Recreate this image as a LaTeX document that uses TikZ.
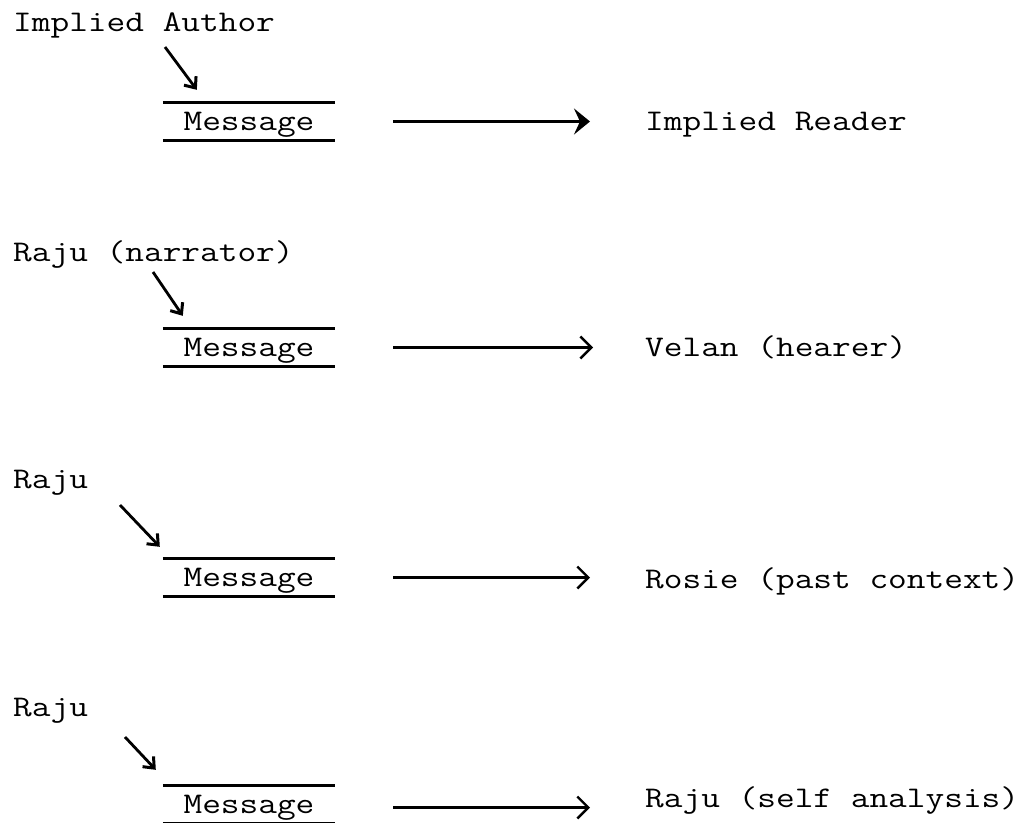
\documentclass[tikz,border=0pt]{standalone}
\usepackage{fontspec}
\usetikzlibrary{arrows.meta,calc}
\newcommand\tw[1]{\scalebox{1.21}[1]{\fontsize{30}{36}\selectfont\ttfamily #1}}
\begin{document}
\begin{tikzpicture}[x=1pt,y=-1pt,
  lbl/.style={anchor=base west,inner sep=0pt},
  msg/.style={minimum width=172pt,minimum height=37pt,inner sep=0pt,text height=18pt,text depth=0pt},
  rule/.style={line width=3pt},
  diag/.style={line width=2.8pt,-{Straight Barb[length=9pt,width=15pt,line width=3pt]}},
  harr/.style={line width=2.6pt,-{Straight Barb[length=11pt,width=22pt,line width=2.4pt]}},
  harrb/.style={line width=3pt,-{Stealth[length=16pt,width=26pt,inset=6pt]}}]
\fill[white] (0,0) rectangle (1028,822);
\useasboundingbox (0,0) rectangle (1028,822);

% row 1
\node[lbl] (s1) at (13,31) {\tw{Implied Author}};
\node[msg] (m1) at (249,121.5) {\tw{Message}};
\node[lbl] (r1) at (645,130) {\tw{Implied Reader}};
\draw[rule] (m1.north west) -- (m1.north east);
\draw[rule] (m1.south west) -- (m1.south east);
\draw[diag] ($(s1.base west)+(152,16)$) -- ($(m1.north west)+(34,-13)$);
\draw[harrb] ([xshift=58pt]m1.east) -- ($(m1.east -| r1.west)+(-55,0)$);

% row 2
\node[lbl] (s2) at (13,261) {\tw{Raju (narrator)}};
\node[msg] (m2) at (249,347.5) {\tw{Message}};
\node[lbl] (r2) at (645,356) {\tw{Velan (hearer)}};
\draw[rule] (m2.north west) -- (m2.north east);
\draw[rule] (m2.south west) -- (m2.south east);
\draw[diag] ($(s2.base west)+(140,11)$) -- ($(m2.north west)+(20,-13)$);
\draw[harr] ([xshift=58pt]m2.east) -- ($(m2.east -| r2.west)+(-52,0)$);

% row 3
\node[lbl] (s3) at (13,488) {\tw{Raju}};
\node[msg] (m3) at (249,577.5) {\tw{Message}};
\node[lbl] (r3) at (645,588) {\tw{Rosie (past context)}};
\draw[rule] (m3.north west) -- (m3.north east);
\draw[rule] (m3.south west) -- (m3.south east);
\draw[diag] ($(s3.base west)+(107,17)$) -- ($(m3.north west)+(-3,-12)$);
\draw[harr] ([xshift=58pt]m3.east) -- ($(m3.east -| r3.west)+(-55,0)$);

% row 4
\node[lbl] (s4) at (13,716) {\tw{Raju}};
\node[msg] (m4) at (249,804.5) {\tw{Message}};
\node[lbl] (r4) at (645,807) {\tw{Raju (self analysis)}};
\draw[rule] (m4.north west) -- (m4.north east);
\draw[rule] (m4.south west) -- (m4.south east);
\draw[diag] ($(s4.base west)+(112,21)$) -- ($(m4.north west)+(-7,-16)$);
\draw[harr] ($(m4.east)+(58,3)$) -- ($(m4.east -| r4.west)+(-55,3)$);
\end{tikzpicture}
\end{document}
